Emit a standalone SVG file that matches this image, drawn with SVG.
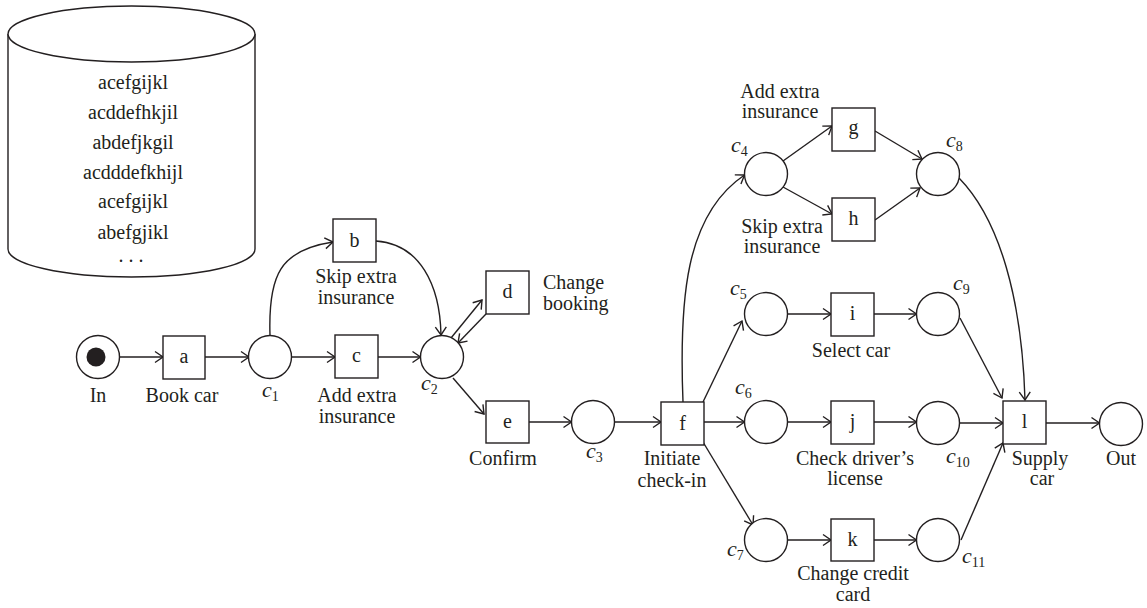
<svg xmlns="http://www.w3.org/2000/svg" width="1147" height="608" viewBox="0 0 1147 608">
<style>
  .shape { fill: #ffffff; stroke: #231f20; stroke-width: 1.4; }
  .edge { fill: none; stroke: #231f20; stroke-width: 1.4; marker-end: url(#arr); }
  text { font-family: "Liberation Serif", "Times New Roman", serif; font-size: 20px; fill: #231f20; }
  .m { text-anchor: middle; }
  .ci { font-style: italic; font-size: 22px; }
  .sub { font-size: 14px; font-style: normal; }
</style>
<defs>
  <marker id="arr" viewBox="-10 -6 12 12" refX="0" refY="0" markerWidth="12" markerHeight="12" markerUnits="userSpaceOnUse" orient="auto" overflow="visible">
    <path d="M-8,-5.5 L0,0 L-8,5.5" fill="none" stroke="#231f20" stroke-width="1.4"/>
  </marker>
</defs>
<rect width="1147" height="608" fill="#ffffff"/>

<g id="log">
  <path class="shape" d="M8 34 L8 249 A123.5 28 0 0 0 255 249 L255 34"/>
  <ellipse class="shape" cx="131.5" cy="34" rx="123.5" ry="28"/>
  <text class="m" x="133" y="89">acefgijkl</text>
  <text class="m" x="133" y="119">acddefhkjil</text>
  <text class="m" x="133" y="149">abdefjkgil</text>
  <text class="m" x="133" y="179">acdddefkhijl</text>
  <text class="m" x="133" y="208">acefgijkl</text>
  <text class="m" x="133" y="239">abefgjikl</text>
  <text class="m" x="131" y="262">. . .</text>
</g>

<g id="connectors">
  <path class="edge" d="M119.5 357 L163 357"/>
  <path class="edge" d="M205 357 L249 357"/>
  <path class="edge" d="M291.5 357 L335 357"/>
  <path class="edge" d="M378 357 L420.5 357"/>
  <path class="edge" d="M270 335.5 C268 275 280 250 333 242"/>
  <path class="edge" d="M376 241 C420 244 440 285 441 335"/>
  <path class="edge" d="M451 338 L482 300"/>
  <path class="edge" d="M486 314 L458 343"/>
  <path class="edge" d="M453 378 L484 414"/>
  <path class="edge" d="M529 422 L571.5 422"/>
  <path class="edge" d="M614.5 422 L661 422"/>
  <path class="edge" d="M683 402 C679 300 685 215 744.5 175"/>
  <path class="edge" d="M703 402 L742 321"/>
  <path class="edge" d="M704 422 L744.5 422"/>
  <path class="edge" d="M703 442 L753 525"/>
  <path class="edge" d="M783 161 L832 126"/>
  <path class="edge" d="M783 187 L832 214"/>
  <path class="edge" d="M875 131 L922 159"/>
  <path class="edge" d="M875 220 L920 188"/>
  <path class="edge" d="M787.5 314 L831 314"/>
  <path class="edge" d="M787.5 422 L831 422"/>
  <path class="edge" d="M787.5 540 L831 540"/>
  <path class="edge" d="M874 314 L916.5 314"/>
  <path class="edge" d="M874 422 L916.5 422"/>
  <path class="edge" d="M874 540 L916.5 540"/>
  <path class="edge" d="M960 318 L1002 398"/>
  <path class="edge" d="M959 178 C1000 220 1022 300 1025 400"/>
  <path class="edge" d="M959.5 423 L1003 423"/>
  <path class="edge" d="M961 540 L1003 443"/>
  <path class="edge" d="M1046 423 L1099.5 423"/>
</g>

<g id="In"><circle class="shape" cx="98" cy="357" r="21.5"/><circle cx="96" cy="357" r="9.5" fill="#231f20"/><text class="m" x="98" y="402">In</text></g>
<g id="a"><rect class="shape" x="163" y="336" width="42" height="43"/><text class="m" x="184" y="363">a</text><text class="m" x="182" y="402">Book car</text></g>
<g id="c1"><circle class="shape" cx="270" cy="357" r="21.5"/><text class="ci" x="262" y="397">c<tspan class="sub" dy="4">1</tspan></text></g>
<g id="b"><rect class="shape" x="333" y="219" width="43" height="43"/><text class="m" x="354.5" y="247">b</text><text class="m" x="356" y="283">Skip extra</text><text class="m" x="356" y="304">insurance</text></g>
<g id="c"><rect class="shape" x="335" y="335" width="43" height="43"/><text class="m" x="356.5" y="362">c</text><text class="m" x="357" y="402">Add extra</text><text class="m" x="357" y="423">insurance</text></g>
<g id="c2"><circle class="shape" cx="442" cy="357" r="21.5"/><text class="ci" x="421" y="390">c<tspan class="sub" dy="4">2</tspan></text></g>
<g id="d"><rect class="shape" x="486" y="271" width="43" height="43"/><text class="m" x="507.5" y="298">d</text><text x="543" y="289">Change</text><text x="543" y="310">booking</text></g>
<g id="e"><rect class="shape" x="486" y="401" width="43" height="42"/><text class="m" x="507.5" y="428">e</text><text class="m" x="503" y="465">Confirm</text></g>
<g id="c3"><circle class="shape" cx="593" cy="422" r="21.5"/><text class="ci" x="586" y="458">c<tspan class="sub" dy="4">3</tspan></text></g>
<g id="f"><rect class="shape" x="661" y="402" width="43" height="43"/><text class="m" x="682.5" y="430">f</text><text class="m" x="672" y="465">Initiate</text><text class="m" x="672" y="487">check-in</text></g>
<g id="c4"><circle class="shape" cx="766" cy="174" r="21.5"/><text class="ci" x="731" y="152">c<tspan class="sub" dy="4">4</tspan></text></g>
<g id="g"><rect class="shape" x="832" y="108" width="43" height="43"/><text class="m" x="853.5" y="134">g</text><text class="m" x="780" y="98">Add extra</text><text class="m" x="780" y="118">insurance</text></g>
<g id="h"><rect class="shape" x="832" y="198" width="43" height="43"/><text class="m" x="853.5" y="225">h</text><text class="m" x="782" y="233">Skip extra</text><text class="m" x="782" y="253">insurance</text></g>
<g id="c8"><circle class="shape" cx="938" cy="174" r="21.5"/><text class="ci" x="946" y="147">c<tspan class="sub" dy="4">8</tspan></text></g>
<g id="c5"><circle class="shape" cx="766" cy="314" r="21.5"/><text class="ci" x="730" y="295">c<tspan class="sub" dy="4">5</tspan></text></g>
<g id="c6"><circle class="shape" cx="766" cy="422" r="21.5"/><text class="ci" x="735" y="394">c<tspan class="sub" dy="4">6</tspan></text></g>
<g id="c7"><circle class="shape" cx="766" cy="540" r="21.5"/><text class="ci" x="727" y="556">c<tspan class="sub" dy="4">7</tspan></text></g>
<g id="i"><rect class="shape" x="831" y="293" width="43" height="43"/><text class="m" x="852.5" y="320">i</text><text class="m" x="851" y="357">Select car</text></g>
<g id="j"><rect class="shape" x="831" y="401" width="43" height="43"/><text class="m" x="852.5" y="428">j</text><text class="m" x="855" y="465">Check driver’s</text><text class="m" x="855" y="485">license</text></g>
<g id="k"><rect class="shape" x="831" y="519" width="43" height="42"/><text class="m" x="852.5" y="546">k</text><text class="m" x="853" y="580">Change credit</text><text class="m" x="853" y="601">card</text></g>
<g id="c9"><circle class="shape" cx="938" cy="314" r="21.5"/><text class="ci" x="953" y="290">c<tspan class="sub" dy="4">9</tspan></text></g>
<g id="c10"><circle class="shape" cx="938" cy="423" r="21.5"/><text class="ci" x="946" y="463">c<tspan class="sub" dy="4">10</tspan></text></g>
<g id="c11"><circle class="shape" cx="938" cy="540" r="21.5"/><text class="ci" x="962" y="563">c<tspan class="sub" dy="4">11</tspan></text></g>
<g id="l"><rect class="shape" x="1003" y="401" width="43" height="43"/><text class="m" x="1024.5" y="428">l</text><text class="m" x="1040" y="465">Supply</text><text class="m" x="1042" y="485">car</text></g>
<g id="Out"><circle class="shape" cx="1121" cy="424" r="21.5"/><text class="m" x="1121" y="465">Out</text></g>
</svg>
